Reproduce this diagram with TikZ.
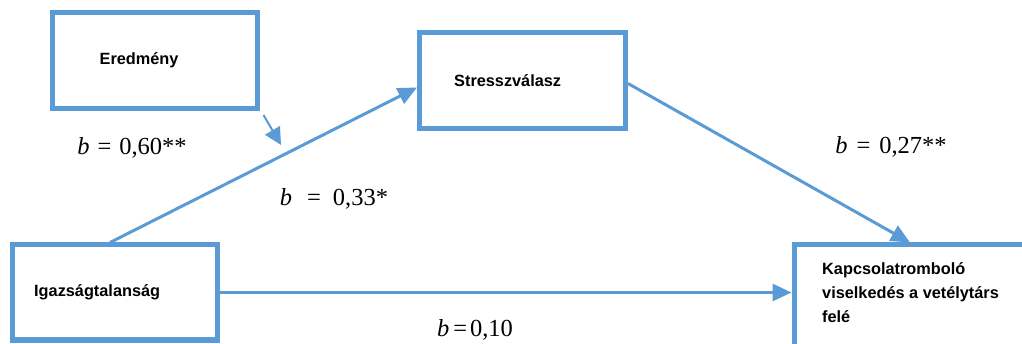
\documentclass[tikz,border=0pt]{standalone}
\usepackage{fontspec}
\setmainfont{Liberation Serif}
\setsansfont{Liberation Sans}
\usepackage{tikz}
\usetikzlibrary{arrows.meta,positioning,calc}
\definecolor{pathblue}{RGB}{91,155,213}

\begin{document}
\begin{tikzpicture}[x=1pt, y=-1pt,
    box/.style={draw=pathblue, line width=5pt, fill=white, inner sep=0pt},
    boxtxt/.style={inner sep=0pt, align=left, font=\sffamily\bfseries\fontsize{16.3}{24}\selectfont},
    lbl/.style={inner sep=0pt, font=\fontsize{24.5}{26}\selectfont},
    arr/.style={-{Triangle[length=19pt, width=17pt]}, line width=3pt, draw=pathblue},
    node distance=10pt]
    \useasboundingbox (0,0) rectangle (1022,344);
    % boxes
    \node[box, minimum width=205pt, minimum height=96pt] (ered) at (154.5,60.5) {};
    \node[box, minimum width=206pt, minimum height=96pt] (stress) at (522.5,80.5) {};
    \node[box, minimum width=205pt, minimum height=95pt] (igazs) at (115,292.5) {};
    \node[box, minimum width=250pt, minimum height=120pt] (kapcs) at (919,305) {};
    \node[boxtxt, right=50pt of ered.west] (eredt) {Eredmény};
    \node[boxtxt, right=37pt of stress.west] (stresst) {Stresszválasz};
    \node[boxtxt, right=24pt of igazs.west] (igazst) {Igazságtalanság};
    \node[boxtxt, anchor=north west] (kapcst) at (822,262)
        {Kapcsolatromboló\\viselkedés a vetélytárs\\felé};
    % paths
    \draw[arr] ([xshift=-5pt]igazs.north) -- ([yshift=-7pt]stress.west);
    \draw[arr] ([yshift=-3pt]stress.east) -- ([xshift=-9pt]kapcs.north);
    \draw[arr] (igazs.east) -- (igazs.east -| kapcs.west);
    \coordinate (eredtip) at (281,145);
    \draw[arr, line width=2pt, -{Triangle[length=17pt, width=17pt]}]
        ([shift={(4pt,-4pt)}]ered.south east) -- (eredtip);
    % coefficients
    \node[lbl] (b1) at (132,148) {\textit{b}\hspace{8pt}=\hspace{8pt}0,60**};
    \node[lbl] (b2) at (334,199) {\textit{b}\hspace{15pt}=\hspace{12pt}0,33*};
    \node[lbl] (b3) at (891,147) {\textit{b}\hspace{9pt}=\hspace{9pt}0,27**};
    \node[lbl] (b4) at (475,330) {\textit{b}\hspace{4pt}=\hspace{3pt}0,10};
\end{tikzpicture}
\end{document}
